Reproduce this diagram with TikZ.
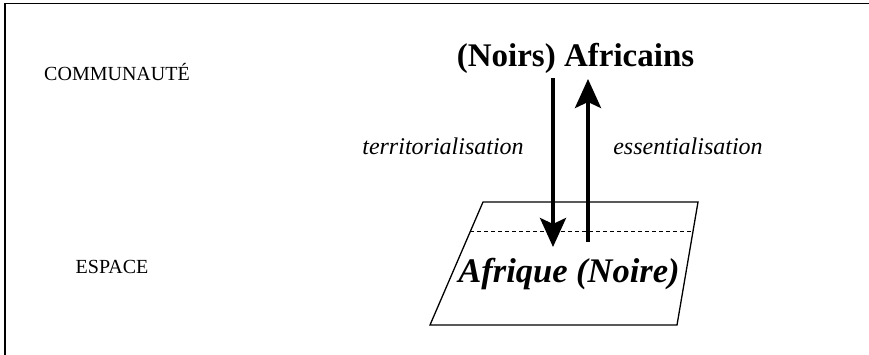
\documentclass[tikz,border=0pt]{standalone}
\usepackage{fontspec}
\setmainfont{Liberation Serif}
\usetikzlibrary{arrows.meta}
\begin{document}
\begin{tikzpicture}[x=1pt,y=-1pt,
  lbl/.style={anchor=base,inner sep=0pt,font=\fontsize{20}{24}\selectfont},
  proc/.style={anchor=base,inner sep=0pt,font=\fontsize{24}{28}\selectfont\itshape},
  bigarrow/.style={line width=4pt,-{Stealth[length=29pt,width=26pt,inset=6pt]}},
  frameline/.style={line width=1.6pt}]
\useasboundingbox (0,0) rectangle (869,355);
% frame
\draw[frameline] (5,355) -- (5,3.5) -- (869,3.5);
% labels
\node[lbl] (comm) at (117,81) {COMMUNAUTÉ};
\node[lbl] (esp) at (112,273.5) {ESPACE};
% plane
\draw[line width=1.3pt] (483,202) -- (698,202) -- (677,325) -- (430,325) -- cycle;
\draw[line width=1pt,dashed,dash pattern=on 4pt off 3pt] (470,232) -- (693,232);
% texts
\node[anchor=base,inner sep=0pt,font=\fontsize{33}{38}\selectfont\bfseries] (afr) at (575.5,67) {(Noirs) Africains};
\node[anchor=base,inner sep=0pt,font=\fontsize{34.5}{40}\selectfont\bfseries\itshape] (afq) at (569,282) {Afrique (Noire)};
\node[proc] (terr) at (443,155) {territorialisation};
\node[proc] (ess) at (688,155) {essentialisation};
% arrows
\coordinate (d1) at (553,78);
\coordinate (d2) at (553,247);
\coordinate (u1) at (588,242);
\coordinate (u2) at (588,79);
\draw[bigarrow] (d1) -- (d2);
\draw[bigarrow] (u1) -- (u2);
\end{tikzpicture}
\end{document}
